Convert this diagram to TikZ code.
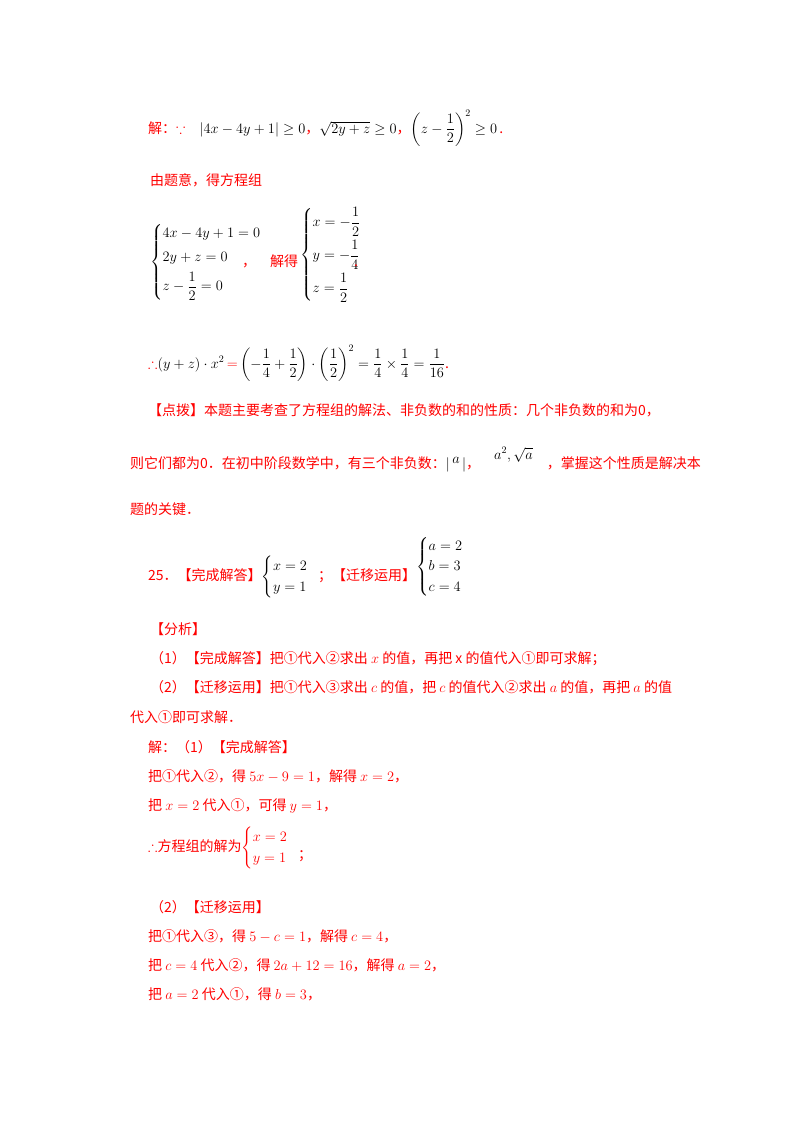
\documentclass[tikz,border=0pt]{standalone}
\usepackage{amsmath,amssymb}
\usepackage{fontspec}
\setmainfont{Noto Sans CJK SC}
\newcommand{\bk}[1]{{\color{black}#1}}
\begin{document}
\begin{tikzpicture}[x=1pt,y=-1pt,
 t/.style={anchor=base west,inner sep=0pt,text=red,font=\fontsize{14}{17}\selectfont},
 tc/.style={anchor=west,inner sep=0pt,text=red,font=\fontsize{14}{17}\selectfont}]
\useasboundingbox (0,0) rectangle (800,1132);
\fill[white] (0,0) rectangle (800,1132);
\node[t] (a1) at (148,133) {解：$\because$\quad\bk{$\left|4x-4y+1\right|\ge0$}，\bk{$\sqrt{2y+z}\ge0$}，\bk{$\left(z-\dfrac12\right)^{2}\ge0$}\,.};
\node[t] (b1) at (150,185) {由题意，得方程组};
\node[tc] (c1) at (150,262) {\bk{$\begin{cases}4x-4y+1=0\\[4pt]2y+z=0\\[4pt] z-\dfrac12=0\end{cases}$}};
\node[t] (c2) at (242,266) {，};
\node[t] (c3) at (270,266) {解得};
\node[tc] (c4) at (300,255) {\bk{$\begin{cases}x=-\dfrac12\\[8pt] y=-\dfrac14\\[8pt] z=\dfrac12\end{cases}$}};
\node[t] (c5) at (354,266) {.};
\node[t] (d1) at (148,368) {$\therefore$\bk{$(y+z)\cdot x^{2}$}$\,=\,$\bk{$\left(-\dfrac14+\dfrac12\right)\cdot\left(\dfrac12\right)^{2}=\dfrac14\times\dfrac14=\dfrac1{16}$}.};
\node[t] (e1) at (148,415) {【点拨】本题主要考查了方程组的解法、非负数的和的性质：几个非负数的和为0，};
\node[t] (e2) at (130,468) {则它们都为0．在初中阶段数学中，有三个非负数：\bk{$|\,\raisebox{5pt}{$a$}\,|$}，\quad\bk{\raisebox{9pt}{$a^{2},\sqrt{a}$}}\quad，掌握这个性质是解决本};
\node[t] (e6) at (130,514) {题的关键．};
\node[tc] (f1) at (148,567) {25．【完成解答】\bk{$\begin{cases}x=2\\ y=1\end{cases}$}\hspace{-4pt}；【迁移运用】\bk{\raisebox{10pt}{$\begin{cases}a=2\\ b=3\\ c=4\end{cases}$}}};
\node[t] (g1) at (150,634) {【分析】};
\node[t] (g2) at (150,663) {（1）【完成解答】把①代入②求出 $x$ 的值，再把 x 的值代入①即可求解；};
\node[t] (g3) at (150,692) {（2）【迁移运用】把①代入③求出 $c$ 的值，把 $c$ 的值代入②求出 $a$ 的值，再把 $a$ 的值};
\node[t] (g4) at (130,722) {代入①即可求解．};
\node[t] (h1) at (148,752) {解：（1）【完成解答】};
\node[t] (h2) at (148,781) {把①代入②，得 $5x-9=1$，解得 $x=2$，};
\node[t] (h3) at (148,810) {把 $x=2$ 代入①，可得 $y=1$，};
\node[tc] (h4) at (148,848) {$\therefore$方程组的解为$\begin{cases}x=2\\ y=1\end{cases}$\hspace{-4pt}\raisebox{-8pt}{；}};
\node[t] (i1) at (150,912) {（2）【迁移运用】};
\node[t] (i2) at (148,941) {把①代入③，得 $5-c=1$，解得 $c=4$，};
\node[t] (i3) at (148,970) {把 $c=4$ 代入②，得 $2a+12=16$，解得 $a=2$，};
\node[t] (i4) at (148,999) {把 $a=2$ 代入①，得 $b=3$，};
\end{tikzpicture}
\end{document}
